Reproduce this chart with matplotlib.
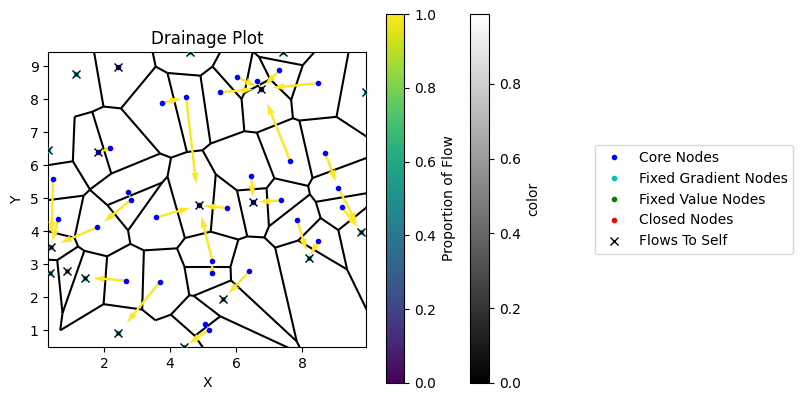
import numpy as np
import matplotlib
matplotlib.use("Agg")
import matplotlib.pyplot as plt
import matplotlib.tri as mtri
from matplotlib.collections import LineCollection

# node coordinates (x, y)
node_x = [4.597, 7.415, 9.915, 0.315, 1.152, 0.394, 0.355, 0.879, 1.424, 2.436,
          4.415, 5.606, 8.194, 9.788,
          2.436, 1.818, 4.861, 6.515, 6.758,
          3.758, 4.485, 2.182, 0.455, 0.606, 2.727, 2.818, 1.794, 3.576, 6.030,
          5.521, 6.636, 7.309, 8.485, 7.636, 8.697, 9.091, 6.455, 7.370, 5.727,
          9.188, 7.845, 8.482, 6.394, 5.273, 5.273, 5.042, 5.182, 2.658, 3.697]
node_y = [9.424, 9.424, 8.212, 6.455, 8.748, 3.530, 2.736, 2.788, 2.597, 0.918,
          0.494, 1.939, 3.203, 3.979,
          8.970, 6.394, 4.779, 4.879, 8.312,
          7.873, 8.052, 6.506, 5.567, 4.370, 5.176, 4.955, 4.115, 4.415, 8.661,
          8.206, 8.539, 8.873, 8.479, 6.112, 6.355, 5.297, 5.658, 4.933, 4.703,
          4.727, 4.324, 3.688, 2.788, 3.112, 2.748, 1.203, 1.021, 2.506, 2.476]
# 0 = core, 2 = fixed gradient
node_status = [2] * 14 + [0] * 35
receivers = [0, 1, 2, 3, 4, 5, 6, 7, 8, 9, 10, 11, 12, 13,
             14, 15, 16, 17, 18,
             20, 16, 15, 5, 5, 25, 26, 5, 16, 18,
             18, 18, 18, 18, 18, 35, 13, 17, 17, 16,
             13, 12, 12, 11, 16, 43, 46, 10, 8, 9]
proportions = [1.0] * 49

color_range = [0.0, 0.987]

x = np.array(node_x)
y = np.array(node_y)
status = np.array(node_status)
rec = np.array(receivers)
prop = np.array(proportions)

fig = plt.figure(figsize=(8.03, 4.03), dpi=100)
ax = fig.add_axes([48/803, 56/403, 318/803, 295/403])

# voronoi cells from the delaunay triangulation
tri = mtri.Triangulation(x, y)
t = tri.triangles
ax_, ay_ = x[t[:, 0]], y[t[:, 0]]
bx_, by_ = x[t[:, 1]], y[t[:, 1]]
cx_, cy_ = x[t[:, 2]], y[t[:, 2]]
d = 2 * (ax_*(by_-cy_) + bx_*(cy_-ay_) + cx_*(ay_-by_))
ux = ((ax_**2+ay_**2)*(by_-cy_) + (bx_**2+by_**2)*(cy_-ay_) + (cx_**2+cy_**2)*(ay_-by_)) / d
uy = ((ax_**2+ay_**2)*(cx_-bx_) + (bx_**2+by_**2)*(ax_-cx_) + (cx_**2+cy_**2)*(bx_-ax_)) / d
segs = []
for i, nb in enumerate(tri.neighbors):
    for j in nb:
        if j > i:
            segs.append([(ux[i], uy[i]), (ux[j], uy[j])])
ax.add_collection(LineCollection(segs, colors='k', linewidths=1.5, zorder=2))

ax.set_aspect(1.0)
ax.set_xlim(x.min(), x.max())
ax.set_ylim(y.min(), y.max())
ax.set_xlabel('X')
ax.set_ylabel('Y')

# flow arrows
viridis = plt.get_cmap('viridis')
colors = viridis(np.floor(prop * 256.0).astype(int))
xdist = -0.8 * (x - x[rec])
ydist = -0.8 * (y - y[rec])
ax.quiver(x, y, xdist, ydist, color=colors, angles='xy', scale_units='xy', scale=1, zorder=3)

o, = ax.plot(x[status == 0], y[status == 0], 'b.', zorder=4)
fg, = ax.plot(x[status == 2], y[status == 2], 'c.', zorder=5)
fv, = ax.plot(x[status == 1], y[status == 1], 'g.', zorder=6)
c, = ax.plot(x[status == 4], y[status == 4], 'r.', zorder=7)
self_flow = rec == np.arange(len(x))
fts, = ax.plot(x[self_flow], y[self_flow], 'kx', zorder=8)

ax.legend(handles=[o, fg, fv, c, fts],
          labels=['Core Nodes', 'Fixed Gradient Nodes', 'Fixed Value Nodes', 'Closed Nodes', 'Flows To Self'],
          numpoints=1, loc='center left', bbox_to_anchor=(1.7, 0.5))
ax.set_title('Drainage Plot')

cax1 = fig.add_axes([386/803, 20/403, 18.5/803, 369/403])
sm = plt.cm.ScalarMappable(cmap=viridis, norm=plt.Normalize(vmin=0, vmax=1))
cb1 = fig.colorbar(sm, cax=cax1)
cb1.set_label('Proportion of Flow')

cax2 = fig.add_axes([470.5/803, 20/403, 18.5/803, 369/403])
sm2 = plt.cm.ScalarMappable(cmap='gray', norm=plt.Normalize(vmin=color_range[0], vmax=color_range[1]))
cb2 = fig.colorbar(sm2, cax=cax2)
cb2.set_label('color')

fig.savefig('out.png', dpi=100)
